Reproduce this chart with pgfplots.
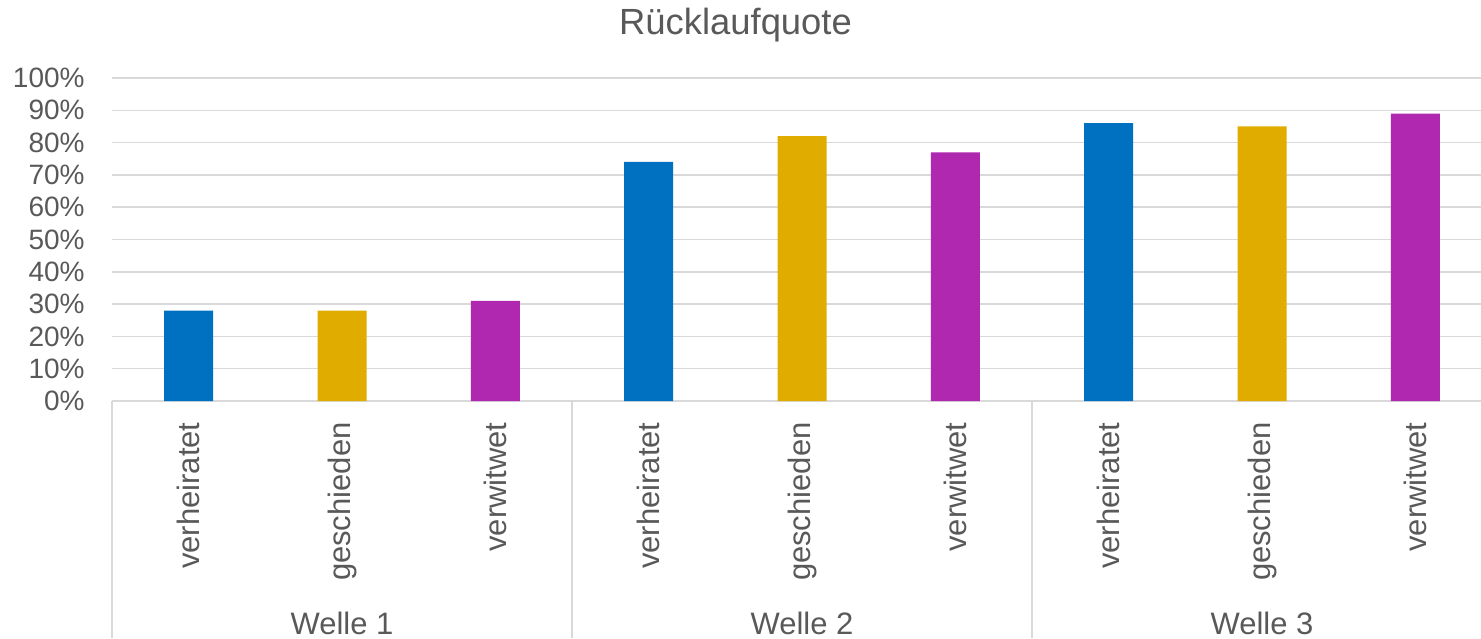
\documentclass[border=0pt]{standalone}
\usepackage{pgfplots}
\pgfplotsset{compat=1.18}
\usepackage{fontspec}
\setmainfont{Liberation Sans}
\definecolor{txt}{HTML}{595959}
\definecolor{gridc}{HTML}{D9D9D9}
\definecolor{cblue}{HTML}{0070C0}
\definecolor{cgold}{HTML}{E0AC00}
\definecolor{cpurp}{HTML}{B027B0}
\begin{document}
\begin{tikzpicture}
\useasboundingbox (0,0) rectangle (740.5pt,319pt);
\node[anchor=base,text=txt,font=\fontsize{18.2}{21}\selectfont,inner sep=0pt] at (367.75pt,301.5pt) {Rücklaufquote};
\begin{axis}[
  at={(56pt,118.5pt)}, anchor=south west,
  width=684.5pt, height=161.5pt, scale only axis,
  xmin=-0.5, xmax=8.428, ymin=0, ymax=100,
  ybar, bar width=24.5pt, bar shift=0pt,
  clip=false,
  axis line style={draw=none},
  major tick length=0pt,
  ymajorgrids, grid style={draw=gridc, line width=0.75pt},
  ytick={0,10,...,100},
  yticklabels={0\%,10\%,20\%,30\%,40\%,50\%,60\%,70\%,80\%,90\%,100\%},
  yticklabel style={anchor=east, inner sep=0pt, xshift=-13.5pt, text=txt, font=\fontsize{14}{16}\selectfont},
  xtick={0,...,8},
  xticklabels={verheiratet,geschieden,verwitwet,verheiratet,geschieden,verwitwet,verheiratet,geschieden,verwitwet},
  xticklabel style={rotate=90, anchor=east, inner sep=0pt, text=txt, font=\fontsize{15.5}{18}\selectfont},
  xticklabel shift=10.5pt,
]
\addplot[fill=cblue, draw=none] coordinates {(0,28) (3,74) (6,86)};
\addplot[fill=cgold, draw=none] coordinates {(1,28) (4,82) (7,85)};
\addplot[fill=cpurp, draw=none] coordinates {(2,31) (5,77) (8,89)};
\draw[gridc, line width=0.75pt] (axis cs:-0.5,0) -- ([yshift=-118.5pt]axis cs:-0.5,0);
\draw[gridc, line width=0.75pt] (axis cs:2.5,0) -- ([yshift=-118.5pt]axis cs:2.5,0);
\draw[gridc, line width=0.75pt] (axis cs:5.5,0) -- ([yshift=-118.5pt]axis cs:5.5,0);
\node[anchor=base, text=txt, font=\fontsize{15.5}{18}\selectfont, inner sep=0pt, yshift=-116.5pt] at (axis cs:1,0) {Welle 1};
\node[anchor=base, text=txt, font=\fontsize{15.5}{18}\selectfont, inner sep=0pt, yshift=-116.5pt] at (axis cs:4,0) {Welle 2};
\node[anchor=base, text=txt, font=\fontsize{15.5}{18}\selectfont, inner sep=0pt, yshift=-116.5pt] at (axis cs:7,0) {Welle 3};
\end{axis}
\end{tikzpicture}
\end{document}
